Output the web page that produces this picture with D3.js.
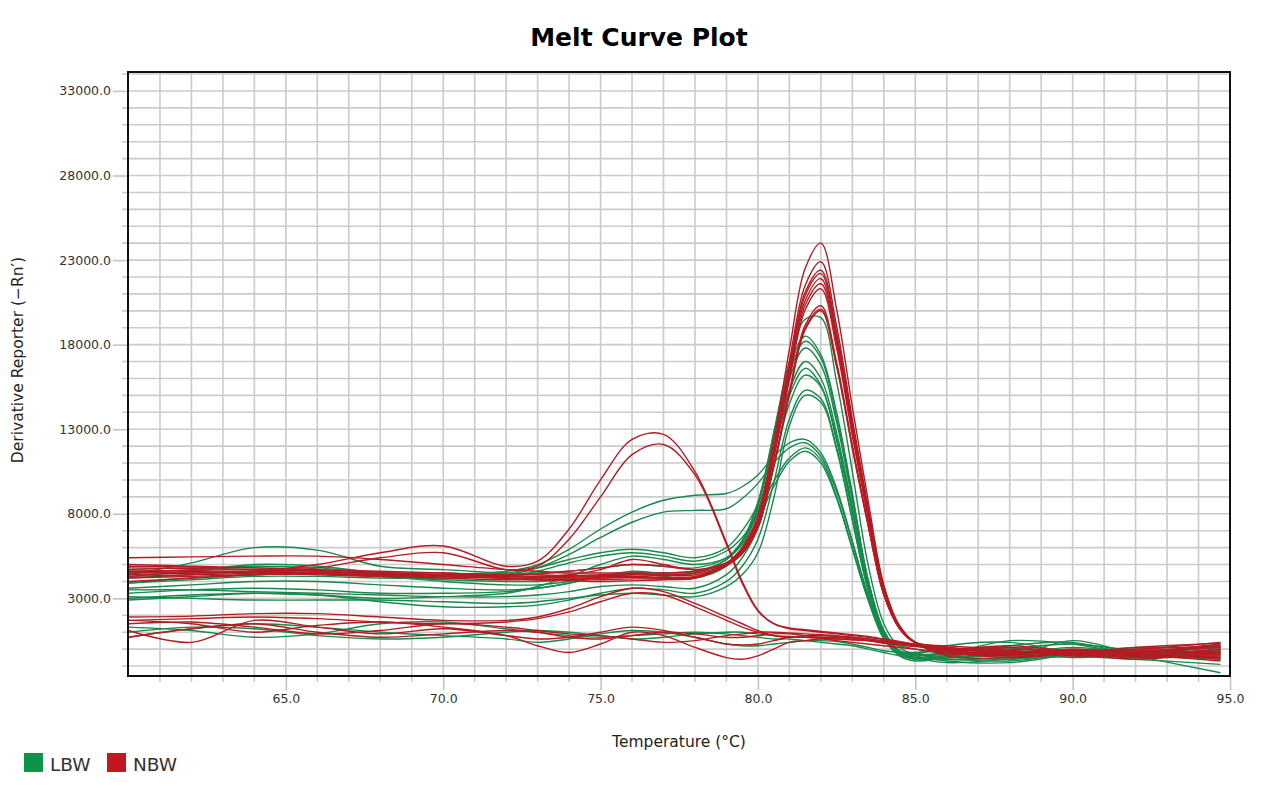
<!DOCTYPE html>
<html>
<head>
<meta charset="utf-8">
<script src="https://d3js.org/d3.v7.min.js"></script>
<style>
body { margin: 0; background: #fff; }
.grid line { stroke: #cbcbcb; stroke-width: 1.6px; }
.tick text { font-family: "DejaVu Sans", sans-serif; font-size: 12.5px; fill: #333; }
.tick line { stroke: #c4c4c4; stroke-width: 1.6px; }
.curve { fill: none; stroke-width: 1.4px; stroke-linejoin: round; }
</style>
</head>
<body>
<script>

// melt temperatures the curves are sampled at (°C)
var temps = [60, 62, 64, 66, 68, 70, 72, 73, 74, 75, 76, 77, 78, 79, 79.5, 80, 80.5, 81, 81.5, 82,
             82.5, 83, 83.5, 84, 84.5, 85, 86, 88, 90, 92, 94.7];

// LBW wells, derivative reporter (-Rn')
var lbw = [
  [4500,4700,4900,4800,4500,4400,4500,4800,5300,5700,5900,5700,5400,6000,7000,8600,12800,17000,19500,19600,15800,10500,5000,1500,100,-300,-500,-300,-100,-400,-200],
  [4700,4800,4700,4600,4300,4100,4000,4000,4100,4300,4400,4400,4500,5300,6400,8700,12700,16600,18500,17400,14000,9200,4100,1100,-100,-300,200,400,-200,-300,-500],
  [3900,4200,4400,4500,4300,4000,3800,3800,4000,4300,4500,4500,4600,5300,6300,8600,12500,16300,18200,17200,13700,9000,4100,1100,-100,-400,-700,-800,-300,0,-300],
  [3300,3500,3600,3500,3300,3300,3400,3600,3900,4300,4500,4300,4200,4900,6000,8400,12300,16000,17800,16800,13400,8800,4000,1000,-100,-200,-100,-400,500,-200,0],
  [4400,5100,6000,5850,4900,4700,4500,4500,4600,4800,5000,4900,4800,5400,6400,8200,11800,15300,17000,16000,12800,8400,3800,1000,-200,-300,-300,-200,-400,-600,-900],
  [3000,3200,3300,3200,3000,3100,3300,3700,4300,5000,5500,5300,5000,5400,6200,8100,11600,15000,16600,15600,12500,8200,3700,1000,-200,-200,0,-100,-300,-500,-300],
  [3500,3500,3400,3300,3200,3100,3100,3200,3400,3700,3800,3700,3600,4400,5400,7200,10800,14500,16200,15500,12300,8100,3700,1000,-100,-300,-600,-500,-200,-100,100],
  [2900,3100,3300,3200,2800,2500,2500,2600,2900,3300,3600,3500,3300,4000,4900,6500,9800,13600,15300,14800,11900,7700,3500,900,-200,-400,-200,0,-200,-400,-600],
  [3100,3000,2900,2900,2900,2800,2700,2800,3000,3200,3300,3200,3100,3700,4400,5700,8900,13200,15000,14600,11800,7600,3500,900,-200,-500,-800,-600,-400,-300,-200],
  [4200,4400,4600,4500,4300,4400,4600,5000,5900,7100,8100,8800,9100,9200,9600,10300,11400,12200,12400,11600,9500,6400,3200,800,-300,-600,-500,-300,100,-200,-300],
  [3900,4100,4300,4300,4200,4200,4400,4800,5600,6600,7500,8100,8200,8300,8900,9800,11000,11900,12200,11400,9300,6300,3100,700,-300,-500,-400,0,300,-100,-500],
  [4300,4600,5000,4900,4500,4300,4300,4600,5100,5500,5700,5500,5200,5800,6600,8000,9900,11300,11900,11200,9000,6000,3000,700,-300,-600,-500,-600,-200,100,0],
  [3600,3800,4000,4000,3800,3600,3500,3600,3900,4300,4600,4500,4600,5100,6000,7600,9600,11100,11700,11000,8900,5900,2900,600,-400,-700,-500,-300,-500,-300,100],
  [700,1200,1500,1300,1000,800,600,400,600,900,1100,1000,700,300,200,200,300,400,500,500,450,300,100,-100,-200,-300,-400,200,400,-400,-1400],
  [1300,1100,700,900,1500,1600,1200,1000,800,700,800,900,1000,900,800,700,600,600,500,400,300,200,0,-200,-400,-500,-600,-700,-300,-200,-400],
  [1000,1300,1200,800,600,700,1000,1100,1000,800,600,700,900,1000,1000,900,800,700,700,700,700,700,600,400,200,0,-200,500,300,-300,-200]
];

// NBW wells
var nbw = [
  [5400,5450,5500,5500,5300,5000,4700,4600,4500,4500,4500,4500,4600,5100,6000,7900,12300,17700,22500,24000,20100,14300,8800,3800,1400,400,-100,-300,-200,-400,0],
  [4800,4750,4700,4600,4500,4500,4300,4300,4300,4350,4400,4350,4400,5000,5900,7700,11900,17000,21500,22900,19100,13600,8400,3700,1350,400,0,-100,-300,-200,300],
  [4600,4650,4700,4650,4400,4300,4200,4200,4250,4300,4300,4250,4300,5000,5850,7600,11700,16600,21100,22400,18700,13300,8200,3600,1300,400,-200,-400,-300,-100,-200],
  [4400,4500,4600,4500,4400,4400,4300,4250,4200,4200,4250,4200,4250,5000,5800,7550,11600,16500,20900,22200,18550,13150,8100,3550,1300,400,100,-200,-100,-300,-500],
  [4900,4850,4800,4700,4600,4500,4400,4400,4350,4400,4450,4400,4500,5000,5800,7500,11500,16300,20600,21900,18300,13000,8000,3500,1300,400,-300,-200,-400,-200,100],
  [4200,4300,4400,4450,4300,4200,4100,4100,4150,4200,4250,4200,4200,4990,5780,7450,11380,16100,20330,21600,18050,12820,7900,3450,1290,400,0,100,-200,-500,-400],
  [4700,4600,4500,4400,4300,4300,4200,4150,4100,4100,4150,4150,4200,4980,5750,7400,11260,15900,20050,21300,17790,12630,7780,3400,1270,390,-100,-300,0,-300,-700],
  [4000,4200,4400,4500,4500,4400,4300,4300,4400,4700,5300,5000,4700,5100,5700,7200,10860,15230,19140,20300,16950,12040,7420,3250,1220,380,200,0,-100,0,200],
  [4500,4550,4550,4500,4350,4300,4350,4450,4600,4800,5000,4900,4700,5000,5650,7180,10780,15100,18960,20100,16780,11920,7350,3220,1210,380,-400,-500,-300,-400,-100],
  [5000,4900,4800,4700,4500,4400,4200,4100,4050,4000,4050,4100,4200,4930,5640,7160,10740,15040,18870,20000,16700,11870,7310,3210,1200,380,100,-100,-200,100,350],
  [4600,4500,4600,5000,5700,6100,4900,5200,7100,10000,12400,12700,10500,6300,4000,2300,1500,1250,1150,1050,950,850,750,600,450,250,0,-200,-100,-400,-300],
  [4300,4400,4500,4800,5400,5700,4700,4900,6500,9000,11500,12100,10300,6200,3900,2250,1500,1200,1100,1000,900,800,700,550,400,200,-100,-300,-200,-300,0],
  [1900,1950,2100,2100,1900,1700,1700,1900,2400,3100,3600,3400,2700,1900,1500,1100,800,700,700,650,600,550,500,450,400,300,100,-300,-200,-500,-200],
  [1700,1800,1900,1800,1600,1500,1600,1800,2200,2800,3300,3200,2500,1700,1300,1000,800,750,700,650,600,550,500,450,350,250,0,-400,-300,-200,200],
  [1100,400,1700,1300,900,1200,800,600,700,1000,1300,1100,700,300,250,300,500,700,800,800,750,650,500,350,250,150,0,-100,-400,-300,200],
  [1700,1500,1000,1400,1600,1300,800,200,-200,300,1000,800,100,-500,-600,-400,0,400,500,600,500,400,300,200,100,0,-200,-500,-300,-600,-100],
  [700,1200,1500,1000,700,900,1100,1000,700,600,800,1000,900,700,700,800,900,900,800,700,700,600,500,400,300,200,0,200,-100,0,400],
  [1500,1600,1300,900,1100,1500,1300,1100,900,800,600,400,500,800,900,1000,1000,950,900,850,800,700,600,500,400,300,100,-200,0,-200,-600]
];

var xMajor = [65, 70, 75, 80, 85, 90, 95];
var yMajor = [3000, 8000, 13000, 18000, 23000, 28000, 33000];
var series = [
  {name: "LBW", color: "#17894b", swatch: "#0e9448", rows: lbw},
  {name: "NBW", color: "#b31c23", swatch: "#c1171f", rows: nbw}
];

var width = 1277, height = 798;
var plotL = 128, plotR = 1230, plotT = 72, plotB = 676;

var x = d3.scaleLinear().domain([60, 95]).range([128.5, 1230]);
var y = d3.scaleLinear().domain([-1590, 34120]).range([plotB, plotT]);

var svg = d3.select("body").append("svg")
  .attr("width", width)
  .attr("height", height);

// grid + small tick stubs
var grid = svg.append("g").attr("class", "grid");
grid.selectAll("line.v")
  .data(d3.range(61, 95))
  .enter().append("line")
  .attr("x1", function(d) { return x(d); })
  .attr("x2", function(d) { return x(d); })
  .attr("y1", plotT)
  .attr("y2", function(d) { return d % 5 == 0 ? plotB : plotB + 6; });
grid.selectAll("line.h")
  .data(d3.range(-1000, 34001, 1000))
  .enter().append("line")
  .attr("y1", function(d) { return y(d); })
  .attr("y2", function(d) { return y(d); })
  .attr("x1", function(d) { return (d - 3000) % 5000 == 0 ? plotL : plotL - 6; })
  .attr("x2", plotR);

svg.append("clipPath").attr("id", "plot")
  .append("rect").attr("x", plotL).attr("y", plotT)
  .attr("width", plotR - plotL).attr("height", plotB - plotT);

var line = d3.line()
  .x(function(d, i) { return x(temps[i]); })
  .y(function(d) { return y(d); })
  .curve(d3.curveCatmullRom.alpha(0.5));

var curves = svg.append("g").attr("clip-path", "url(#plot)");
series.forEach(function(s) {
  curves.selectAll(null)
    .data(s.rows)
    .enter().append("path")
    .attr("class", "curve")
    .attr("stroke", s.color)
    .attr("d", line);
});

// axes (labels + long major ticks)
svg.append("g")
  .attr("transform", "translate(" + plotL + ",0)")
  .call(d3.axisLeft(y).tickValues(yMajor).tickSize(15).tickPadding(2)
    .tickFormat(function(d) { return d.toFixed(1); }))
  .call(function(g) { g.select(".domain").remove(); });

svg.append("g")
  .attr("transform", "translate(0," + plotB + ")")
  .call(d3.axisBottom(x).tickValues(xMajor).tickSize(14).tickPadding(4)
    .tickFormat(function(d) { return d.toFixed(1); }))
  .call(function(g) { g.select(".domain").remove(); });

svg.append("rect")
  .attr("x", plotL).attr("y", plotT)
  .attr("width", plotR - plotL).attr("height", plotB - plotT)
  .attr("fill", "none").attr("stroke", "#111").attr("stroke-width", 2);

svg.append("text")
  .attr("x", 639).attr("y", 46)
  .attr("text-anchor", "middle")
  .style("font-family", "DejaVu Sans, sans-serif")
  .style("font-weight", "bold")
  .style("font-size", "25px")
  .text("Melt Curve Plot");

svg.append("text")
  .attr("x", 679).attr("y", 747)
  .attr("text-anchor", "middle")
  .style("font-family", "DejaVu Sans, sans-serif")
  .style("font-size", "15.5px")
  .style("fill", "#222")
  .text("Temperature (°C)");

svg.append("text")
  .attr("transform", "translate(23,360) rotate(-90)")
  .attr("text-anchor", "middle")
  .style("font-family", "DejaVu Sans, sans-serif")
  .style("font-size", "15.5px")
  .style("fill", "#222")
  .text("Derivative Reporter (\u2212Rn\u2032)");

// legend
var legend = svg.append("g");
var lx = 24;
series.forEach(function(s) {
  legend.append("rect")
    .attr("x", lx).attr("y", 753)
    .attr("width", 19).attr("height", 19)
    .attr("fill", s.swatch);
  legend.append("text")
    .attr("x", lx + 26).attr("y", 771)
    .style("font-family", "DejaVu Sans, sans-serif")
    .style("font-size", "18.5px")
    .style("fill", "#333")
    .text(s.name);
  lx += 83;
});

</script>
</body>
</html>
